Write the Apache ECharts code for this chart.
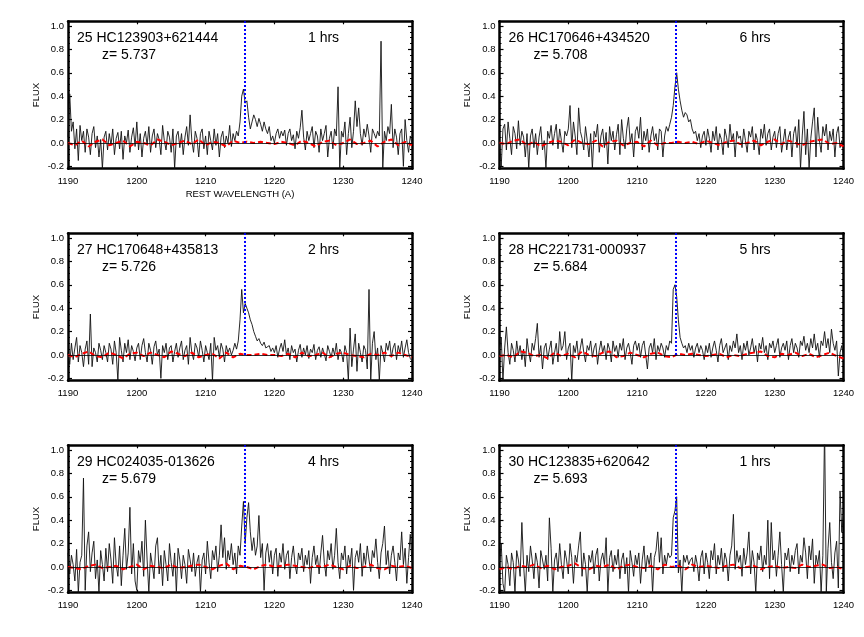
<!DOCTYPE html>
<html>
<head>
<meta charset="utf-8">
<title>Lya spectra</title>
<script src="https://cdn.jsdelivr.net/npm/echarts@6/dist/echarts.min.js"></script>
<style>
  html, body { margin: 0; padding: 0; background: #fff; }
  #chart { width: 864px; height: 637px; }
</style>
</head>
<body>
<div id="chart"></div>
<script>
// wavelength grid of the spectra (rest frame, Angstrom)
var WAVE_START = 1190;
var WAVE_STEP = 0.25;
var SKY_STEP = 1;
var LYA = 1215.67;

var X_MIN = 1190, X_MAX = 1240, X_INTERVAL = 10;
var Y_MIN = -0.22, Y_MAX = 1.04;
var Y_MAJOR = [-0.2, 0.0, 0.2, 0.4, 0.6, 0.8, 1.0];
var Y_MINOR = [-0.2, -0.15, -0.1, -0.05, 0, 0.05, 0.1, 0.15, 0.2, 0.25, 0.3, 0.35, 0.4,
  0.45, 0.5, 0.55, 0.6, 0.65, 0.7, 0.75, 0.8, 0.85, 0.9, 0.95, 1.0];

var objNames = ['25 HC123903+621444', '26 HC170646+434520', '27 HC170648+435813',
  '28 HC221731-000937', '29 HC024035-013626', '30 HC123835+620642'];
var redshifts = ['5.737', '5.708', '5.726', '5.684', '5.679', '5.693'];
var hours = ['1 hrs', '6 hrs', '2 hrs', '5 hrs', '4 hrs', '1 hrs'];

// flux, one value every 0.25 A from 1190 to 1240
var flux25 = [
  0.05, 0.42, 0.10, 0.18, -0.05, 0.12, -0.15, 0.15, 0.02, 0.10, -0.08, 0.12, 0.05, -0.10, 0.08, 0.14, -0.04, 0.06, -0.12, 0.03,
  -0.22, 0.05, 0.10, -0.06, 0.08, -0.02, 0.12, -0.10, 0.04, 0.09, -0.05, 0.10, -0.14, 0.06, 0.00, 0.11, -0.08, 0.05, 0.13, -0.03,
  0.18, -0.06, 0.08, -0.12, 0.04, 0.10, -0.02, 0.14, -0.08, 0.06, 0.12, -0.04, 0.08, 0.03, -0.10, 0.15, 0.02, -0.06, 0.10, 0.05,
  -0.08, 0.12, -0.22, 0.06, 0.10, -0.04, 0.08, -0.10, 0.05, 0.14, -0.02, 0.24, 0.02, -0.08, 0.10, 0.04, -0.12, 0.08, 0.12, -0.05,
  0.06, -0.10, 0.10, 0.02, -0.06, 0.12, -0.02, 0.08, -0.12, 0.05, 0.10, -0.04, 0.06, 0.00, 0.15, -0.03, 0.08, 0.02, 0.10, 0.06,
  0.18, 0.40, 0.46, 0.34, 0.36, 0.22, 0.12, 0.18, 0.24, 0.20, 0.14, 0.21, 0.16, 0.10, 0.18, 0.12, 0.08, 0.14, 0.02, 0.06,
  0.00, 0.08, 0.12, 0.04, 0.10, 0.06, 0.11, -0.02, 0.08, 0.12, 0.02, 0.07, -0.05, 0.10, 0.04, 0.13, 0.28, 0.05, -0.06, 0.10,
  0.02, 0.08, 0.14, -0.04, 0.10, 0.06, -0.08, 0.12, 0.02, 0.08, 0.15, -0.12, 0.04, 0.10, -0.05, 0.12, 0.06, 0.48, -0.22, 0.10,
  0.05, 0.18, -0.10, 0.08, 0.22, -0.04, 0.10, 0.36, 0.14, 0.30, 0.08, -0.02, 0.12, 0.05, 0.16, 0.06, -0.08, 0.12, 0.08, 0.04,
  0.10, 0.06, 0.87, -0.22, 0.10, 0.02, 0.14, 0.08, 0.33, -0.04, 0.12, 0.05, -0.10, 0.08, 0.12, -0.20, 0.20, 0.02, -0.08, 0.06,
  0.00
];
var flux26 = [
  0.02, -0.20, 0.12, 0.16, -0.06, 0.18, 0.04, -0.10, 0.14, 0.08, -0.05, 0.19, -0.02, 0.10, 0.05, -0.12, 0.08, -0.22, 0.06, 0.12,
  -0.04, 0.08, -0.10, 0.05, 0.14, -0.06, 0.02, -0.22, 0.10, 0.04, 0.15, -0.02, 0.08, 0.16, -0.05, 0.12, 0.02, -0.08, 0.10, 0.06,
  0.12, 0.32, -0.04, 0.18, 0.06, -0.10, 0.30, 0.10, 0.04, -0.06, 0.14, 0.02, -0.12, 0.08, -0.22, 0.10, 0.05, 0.16, -0.08, 0.06,
  0.12, -0.04, 0.09, -0.18, 0.14, 0.02, 0.10, -0.06, 0.07, 0.16, -0.10, 0.20, 0.04, -0.05, 0.12, 0.22, 0.00, 0.08, -0.12, 0.10,
  0.14, 0.04, 0.22, -0.06, 0.10, 0.02, 0.12, -0.08, 0.06, 0.14, 0.02, 0.08, -0.06, 0.12, 0.10, -0.12, 0.06, 0.14, 0.10, 0.16,
  0.22, 0.32, 0.48, 0.60, 0.46, 0.36, 0.28, 0.22, 0.26, 0.24, 0.18, 0.20, 0.12, 0.08, 0.10, 0.02, 0.08, -0.04, 0.06, 0.10,
  -0.02, 0.12, 0.04, -0.08, 0.10, 0.02, 0.14, -0.06, 0.08, 0.03, -0.10, 0.12, 0.05, -0.04, 0.16, 0.02, 0.08, -0.12, 0.10, 0.04,
  0.06, -0.04, 0.12, 0.02, -0.08, 0.10, 0.05, 0.14, -0.06, 0.08, 0.02, -0.10, 0.12, 0.04, 0.16, -0.02, 0.08, 0.12, -0.06, 0.05,
  0.10, -0.04, 0.08, 0.14, -0.08, 0.02, 0.12, -0.06, 0.05, 0.10, -0.12, 0.08, 0.14, -0.04, 0.20, -0.22, 0.06, 0.27, -0.10, 0.12,
  -0.22, 0.04, 0.18, 0.30, -0.12, 0.22, 0.02, -0.08, 0.14, 0.06, 0.16, -0.06, 0.10, 0.02, 0.12, -0.12, 0.08, 0.14, -0.04, 0.02,
  -0.05
];
var flux27 = [
  0.02, -0.08, 0.10, -0.04, 0.06, 0.15, -0.06, 0.08, 0.02, -0.10, 0.05, 0.12, -0.08, 0.35, -0.10, 0.06, 0.02, -0.06, 0.10, 0.04,
  -0.04, 0.08, 0.02, -0.06, 0.10, 0.05, -0.08, 0.12, 0.02, -0.22, 0.15, 0.04, -0.06, 0.10, 0.02, 0.13, -0.04, 0.08, 0.03, -0.05,
  0.06, 0.10, -0.04, 0.08, 0.14, 0.02, -0.06, 0.10, 0.04, -0.08, 0.07, 0.12, 0.00, 0.05, -0.20, 0.08, 0.02, 0.10, -0.04, 0.06,
  0.08, -0.06, 0.03, 0.10, -0.02, 0.06, 0.12, -0.04, 0.04, 0.08, -0.08, 0.15, 0.02, -0.04, 0.10, 0.06, -0.02, 0.12, 0.04, -0.06,
  0.08, 0.02, -0.04, 0.10, -0.22, 0.15, 0.04, 0.08, -0.02, 0.10, 0.05, -0.06, 0.08, 0.02, 0.06, 0.00, 0.04, 0.10, 0.05, 0.12,
  0.30, 0.56, 0.36, 0.44, 0.40, 0.36, 0.30, 0.26, 0.20, 0.16, 0.12, 0.14, 0.10, 0.08, 0.11, 0.06, 0.05, 0.08, 0.03, 0.06,
  0.02, 0.08, -0.02, 0.05, 0.10, 0.03, 0.13, 0.00, 0.06, -0.04, 0.08, 0.02, 0.05, -0.06, 0.04, 0.09, -0.02, 0.06, 0.00, 0.08,
  -0.03, 0.05, 0.02, 0.09, -0.04, 0.04, 0.07, -0.02, 0.06, 0.01, -0.05, 0.08, 0.03, -0.02, 0.06, 0.00, 0.10, -0.04, 0.05, 0.02,
  -0.06, 0.08, 0.02, -0.22, 0.23, -0.10, 0.05, 0.18, -0.14, 0.10, 0.02, -0.06, 0.08, 0.04, -0.12, 0.56, -0.22, 0.10, 0.20, -0.04,
  0.06, -0.22, 0.08, 0.02, -0.06, 0.10, 0.04, 0.12, -0.02, 0.06, 0.10, -0.04, 0.08, 0.02, 0.12, -0.02, 0.06, 0.13, 0.02, -0.03,
  -0.05
];
var flux28 = [
  0.04, 0.15, -0.22, 0.06, 0.24, 0.02, -0.08, 0.10, 0.04, -0.06, 0.12, 0.00, 0.08, -0.04, 0.05, -0.10, 0.14, 0.02, -0.06, 0.10,
  0.04, 0.14, 0.27, -0.02, 0.08, -0.12, 0.06, 0.10, -0.04, 0.05, 0.12, -0.08, 0.02, 0.10, -0.06, 0.20, 0.04, 0.08, 0.20, -0.04,
  0.06, 0.10, -0.22, 0.08, 0.02, 0.12, -0.04, 0.06, 0.14, 0.02, -0.06, 0.08, 0.04, 0.12, -0.02, 0.06, 0.10, -0.08, 0.04, 0.12,
  0.02, 0.08, -0.04, 0.10, 0.05, -0.06, 0.12, 0.03, 0.08, -0.02, 0.10, 0.04, 0.14, -0.04, 0.06, 0.10, 0.02, -0.08, 0.08, 0.12,
  0.04, 0.10, -0.02, 0.08, 0.12, 0.00, -0.12, 0.06, 0.10, 0.02, 0.14, -0.04, 0.08, 0.03, 0.10, 0.06, -0.02, 0.08, 0.04, 0.12,
  0.10, 0.56, 0.60, 0.50, 0.30, 0.15, 0.10, 0.06, 0.08, 0.02, 0.10, 0.04, 0.08, -0.02, 0.06, 0.10, 0.02, 0.08, 0.04, -0.04,
  0.08, 0.02, 0.10, -0.02, 0.06, 0.12, 0.04, -0.06, 0.08, 0.14, 0.02, 0.06, 0.10, -0.04, 0.08, 0.03, 0.12, 0.06, 0.18, 0.02,
  0.08, -0.04, 0.10, 0.04, 0.12, 0.00, 0.06, 0.14, 0.02, 0.08, -0.06, 0.10, 0.05, 0.15, 0.02, 0.08, -0.04, 0.10, 0.06, 0.12,
  0.02, 0.08, 0.14, -0.02, 0.06, 0.10, 0.04, 0.12, -0.04, 0.08, 0.14, 0.02, 0.10, 0.06, -0.02, 0.12, 0.08, 0.16, 0.04, 0.10,
  0.02, 0.14, 0.06, 0.18, 0.04, 0.10, -0.02, 0.12, 0.08, 0.20, 0.06, 0.14, 0.02, 0.22, 0.10, 0.04, 0.12, -0.18, 0.02, 0.08,
  -0.02
];
var flux29 = [
  0.12, -0.06, 0.10, 0.02, -0.12, 0.15, -0.22, 0.04, 0.10, 0.76, -0.20, 0.18, 0.30, -0.04, 0.12, 0.22, -0.10, 0.06, -0.22, 0.14,
  0.02, -0.12, 0.16, -0.04, 0.20, 0.06, -0.14, 0.25, 0.02, -0.08, 0.18, -0.16, 0.10, 0.33, -0.02, 0.12, 0.51, -0.06, 0.20, -0.12,
  -0.20, 0.14, 0.04, 0.22, -0.08, 0.40, 0.06, -0.22, 0.12, 0.02, -0.10, 0.18, 0.25, -0.06, 0.10, -0.16, 0.14, 0.02, -0.12, 0.20,
  0.04, -0.08, 0.12, -0.22, 0.16, 0.06, -0.10, 0.10, 0.02, -0.14, 0.15, 0.06, -0.04, 0.12, -0.08, 0.04, 0.10, -0.22, 0.06, 0.12,
  -0.06, 0.22, 0.04, -0.10, 0.14, 0.06, 0.18, -0.04, 0.10, 0.36, 0.08, 0.25, -0.02, 0.14, 0.06, 0.20, 0.02, 0.12, -0.06, 0.18,
  0.10, 0.35, 0.56, 0.20, 0.42, 0.55, 0.30, 0.14, 0.25, 0.10, 0.18, 0.44, 0.08, 0.20, -0.20, 0.12, 0.20, 0.04, 0.14, -0.06,
  0.10, 0.16, -0.08, 0.12, 0.04, 0.20, -0.02, 0.10, 0.14, -0.10, 0.08, 0.18, 0.02, -0.06, 0.12, 0.06, 0.16, -0.04, 0.10, 0.02,
  0.14, -0.14, 0.08, 0.18, 0.02, 0.10, -0.06, 0.12, 0.27, 0.04, -0.08, 0.14, 0.06, 0.20, -0.02, 0.10, 0.33, 0.04, -0.10, 0.12,
  0.06, 0.18, -0.06, 0.10, 0.02, 0.16, -0.20, 0.08, 0.14, 0.04, 0.20, -0.08, 0.12, 0.02, 0.18, 0.06, -0.04, 0.14, 0.08, 0.24,
  0.04, -0.10, 0.12, 0.20, 0.35, 0.02, 0.14, -0.06, 0.10, 0.18, 0.04, -0.12, 0.12, 0.06, 0.30, 0.02, 0.16, -0.14, 0.08, 0.28,
  0.04
];
var flux30 = [
  0.04, 0.20, -0.14, -0.22, 0.10, 0.02, -0.16, 0.12, 0.04, -0.22, 0.14, 0.06, -0.08, 0.38, 0.02, -0.22, 0.10, -0.04, 0.18, 0.06,
  -0.10, 0.12, 0.04, -0.18, 0.14, 0.06, -0.02, 0.10, -0.12, 0.42, 0.16, -0.22, 0.06, 0.12, -0.04, 0.20, 0.02, -0.10, 0.14, 0.06,
  -0.06, 0.20, 0.08, -0.14, 0.10, 0.04, 0.18, 0.30, -0.08, 0.12, 0.02, -0.22, 0.10, 0.04, 0.14, -0.06, 0.10, 0.16, -0.12, 0.06,
  0.12, 0.02, 0.25, -0.22, 0.08, 0.14, -0.04, 0.10, 0.02, 0.15, -0.10, 0.06, 0.12, -0.06, 0.08, -0.22, 0.14, 0.04, -0.08, 0.10,
  0.02, 0.12, -0.14, 0.06, 0.18, -0.04, 0.10, 0.02, 0.12, -0.22, 0.08, 0.14, 0.30, 0.04, 0.25, -0.06, 0.10, 0.02, 0.12, 0.08,
  0.10, 0.42, 0.48, 0.60, -0.05, 0.06, -0.22, 0.10, 0.04, 0.10, 0.02, 0.06, 0.08, -0.04, 0.10, 0.02, -0.12, 0.08, 0.14, -0.06,
  0.12, 0.04, -0.10, 0.14, 0.06, 0.20, -0.06, 0.10, 0.02, 0.16, -0.04, 0.12, 0.06, -0.12, 0.10, 0.18, 0.45, -0.02, 0.14, 0.04,
  0.10, -0.08, 0.16, 0.02, 0.12, 0.30, -0.06, 0.14, 0.04, -0.22, 0.12, 0.06, 0.18, -0.04, 0.10, 0.02, 0.40, -0.10, 0.38, 0.06,
  0.14, -0.08, 0.10, 0.30, 0.02, -0.22, 0.12, 0.06, 0.16, -0.04, 0.10, 0.02, 0.14, 0.20, -0.06, 0.10, 0.04, 0.25, 0.12, -0.10,
  0.18, 0.06, 0.24, -0.14, 0.10, 0.02, 0.14, -0.22, 0.10, 1.20, -0.22, 0.16, 0.38, 0.04, -0.10, 0.12, 0.22, -0.18, 0.65, 0.30,
  0.45
];

// sky / noise reference (red dashed), one value per A
var sky25 = [0.00, -0.02, 0.02, -0.03, 0.01, 0.03, -0.02, 0.00, 0.02, -0.03, 0.01, 0.00, -0.02, 0.03, 0.01, -0.02, 0.00, 0.02, -0.01, 0.03,
  -0.02, 0.01, 0.00, -0.03, 0.02, 0.00, 0.01, 0.00, 0.01, 0.00, -0.01, 0.01, 0.00, -0.02, 0.02, 0.00, -0.03, 0.01, 0.02, -0.02,
  0.00, 0.03, -0.01, 0.00, 0.02, -0.03, 0.01, 0.03, -0.02, 0.01, -0.02];
var sky26 = [0.00, -0.01, 0.02, 0.03, -0.02, 0.01, -0.03, 0.00, 0.02, 0.01, -0.02, 0.03, 0.00, -0.01, 0.02, -0.03, 0.01, 0.02, -0.02, 0.00,
  0.01, -0.03, 0.02, -0.02, 0.00, 0.00, 0.01, 0.00, 0.01, -0.01, 0.02, 0.00, -0.02, 0.01, 0.02, -0.01, 0.00, 0.02, -0.02, 0.01,
  0.03, -0.01, 0.02, 0.00, -0.02, 0.01, 0.02, 0.03, -0.01, 0.00, -0.03];
var sky27 = [0.00, -0.02, 0.01, 0.03, -0.01, -0.02, 0.02, 0.00, -0.03, 0.01, 0.02, -0.01, 0.02, 0.00, -0.02, 0.03, 0.01, -0.01, 0.02, -0.02,
  0.00, 0.01, -0.03, 0.02, -0.02, 0.01, 0.00, 0.00, 0.01, 0.00, 0.00, -0.01, 0.01, -0.02, 0.02, -0.01, 0.00, 0.02, -0.02, 0.01,
  0.02, 0.00, -0.01, -0.02, 0.01, 0.00, 0.02, -0.01, 0.02, 0.00, -0.02];
var sky28 = [-0.01, 0.00, -0.02, 0.03, 0.02, -0.01, 0.00, -0.03, 0.02, -0.01, 0.01, -0.02, 0.03, 0.00, -0.01, 0.02, 0.03, -0.02, -0.01, 0.02,
  0.00, -0.02, 0.01, 0.02, -0.01, -0.02, 0.01, 0.00, 0.01, 0.00, -0.01, 0.00, 0.01, -0.02, 0.00, -0.01, 0.01, 0.02, 0.03, -0.01,
  -0.02, 0.01, 0.00, 0.02, -0.01, 0.01, -0.02, 0.00, 0.02, -0.01, -0.03];
var sky29 = [0.00, -0.01, -0.02, 0.01, 0.02, -0.01, 0.00, 0.01, -0.02, 0.00, 0.02, -0.02, 0.01, 0.00, -0.01, 0.02, -0.01, 0.00, 0.01, 0.02,
  0.00, -0.02, 0.01, 0.03, -0.02, 0.01, 0.00, -0.02, 0.01, 0.02, 0.00, 0.01, 0.02, 0.01, 0.00, -0.01, 0.01, 0.00, 0.02, 0.00,
  -0.02, 0.01, -0.01, 0.00, 0.02, -0.01, -0.02, 0.01, 0.00, 0.01, -0.01];
var sky30 = [-0.02, 0.00, -0.02, 0.01, 0.00, 0.02, -0.01, 0.01, -0.02, 0.00, 0.01, 0.03, -0.01, -0.02, 0.01, 0.00, 0.02, -0.02, 0.01, 0.02,
  0.00, -0.01, 0.01, -0.02, 0.02, 0.00, 0.01, -0.02, 0.02, 0.00, 0.01, 0.00, -0.01, 0.01, 0.02, -0.01, 0.00, 0.01, -0.02, 0.00,
  0.01, -0.01, 0.00, -0.01, 0.02, 0.00, 0.01, 0.02, -0.01, 0.00, -0.02];

var fluxList = [flux25, flux26, flux27, flux28, flux29, flux30];
var skyList = [sky25, sky26, sky27, sky28, sky29, sky30];

// panel layout (2 columns x 3 rows)
var panelLeft = [68, 499.5];
var panelTop = [21.3, 233.3, 445.3];
var panelW = 344, panelH = 147.4;
var FONT = 'Liberation Sans, Arial, Helvetica, sans-serif';

function pairs(values, start, step) {
  return values.map(function (v, i) { return [start + i * step, v]; });
}

function frameStyle() { return { color: '#000', width: 2.5 }; }
function tickStyle() { return { color: '#000', width: 1.2 }; }
function labelStyle() { return { color: '#000', fontSize: 9.5, fontFamily: FONT }; }

var grid = [], xAxis = [], yAxis = [], series = [], graphic = [];

for (var p = 0; p < 6; p++) {
  var gx = panelLeft[p % 2];
  var gy = panelTop[Math.floor(p / 2)];
  grid.push({ left: gx, top: gy, width: panelW, height: panelH });

  var xi = xAxis.length;
  xAxis.push({
    gridIndex: p, type: 'value', position: 'bottom',
    min: X_MIN, max: X_MAX, interval: X_INTERVAL,
    axisLine: { onZero: false, lineStyle: frameStyle() },
    axisTick: { inside: true, length: 3, lineStyle: tickStyle() },
    axisLabel: Object.assign({ margin: 8, formatter: function (v) { return String(v); } }, labelStyle()),
    splitLine: { show: false },
    name: p === 0 ? 'REST WAVELENGTH (A)' : '',
    nameLocation: 'middle', nameGap: 21,
    nameTextStyle: labelStyle()
  });
  xAxis.push({
    gridIndex: p, type: 'value', position: 'top',
    min: X_MIN, max: X_MAX, interval: X_INTERVAL,
    axisLine: { onZero: false, lineStyle: frameStyle() },
    axisTick: { inside: true, length: 3, lineStyle: tickStyle() },
    axisLabel: { show: false },
    splitLine: { show: false }
  });

  var yi = yAxis.length;
  ['left', 'right'].forEach(function (pos) {
    yAxis.push({
      gridIndex: p, type: 'value', position: pos,
      min: Y_MIN, max: Y_MAX,
      axisLine: { show: true, onZero: false, lineStyle: frameStyle() },
      axisTick: { inside: true, length: 4, lineStyle: tickStyle(), customValues: Y_MAJOR },
      axisLabel: pos === 'left'
        ? Object.assign({ margin: 4, customValues: Y_MAJOR, formatter: function (v) { return v.toFixed(1); } }, labelStyle())
        : { show: false },
      splitLine: { show: false },
      name: pos === 'left' ? 'FLUX' : '',
      nameLocation: 'middle', nameGap: 27,
      nameTextStyle: labelStyle()
    });
    yAxis.push({
      gridIndex: p, type: 'value', position: pos,
      min: Y_MIN, max: Y_MAX,
      axisLine: { show: false },
      axisTick: { inside: true, length: 2, lineStyle: { color: '#000', width: 1 }, customValues: Y_MINOR },
      axisLabel: { show: false },
      splitLine: { show: false }
    });
  });

  series.push({
    type: 'line', xAxisIndex: xi, yAxisIndex: yi,
    data: pairs(fluxList[p], WAVE_START, WAVE_STEP),
    symbol: 'none', clip: true, silent: true, z: 2,
    lineStyle: { color: '#111', width: 0.9 }
  });
  series.push({
    type: 'line', xAxisIndex: xi, yAxisIndex: yi,
    data: pairs(skyList[p], WAVE_START, SKY_STEP),
    symbol: 'none', clip: true, silent: true, z: 3,
    lineStyle: { color: '#ff0000', width: 2, type: [5, 3] },
    markLine: {
      silent: true, symbol: ['none', 'none'], label: { show: false }, animation: false,
      data: [
        { yAxis: 0, lineStyle: { color: '#000', width: 0.8, type: 'solid' } },
        [
          { coord: [LYA, 0], lineStyle: { color: '#0000ff', width: 2, type: [2, 2] } },
          { coord: [LYA, Y_MAX] }
        ]
      ]
    }
  });

  graphic.push({ type: 'text', x: gx + 9, y: gy + 17, silent: true,
    style: { text: objNames[p], font: '14px ' + FONT, fill: '#000', verticalAlign: 'middle' } });
  graphic.push({ type: 'text', x: gx + 34, y: gy + 34, silent: true,
    style: { text: 'z= ' + redshifts[p], font: '14px ' + FONT, fill: '#000', verticalAlign: 'middle' } });
  graphic.push({ type: 'text', x: gx + 240, y: gy + 17, silent: true,
    style: { text: hours[p], font: '14px ' + FONT, fill: '#000', verticalAlign: 'middle' } });
}

var chart = echarts.init(document.getElementById('chart'));
chart.setOption({
  backgroundColor: '#fff',
  animation: false,
  grid: grid,
  xAxis: xAxis,
  yAxis: yAxis,
  series: series,
  graphic: graphic
});
</script>
</body>
</html>
